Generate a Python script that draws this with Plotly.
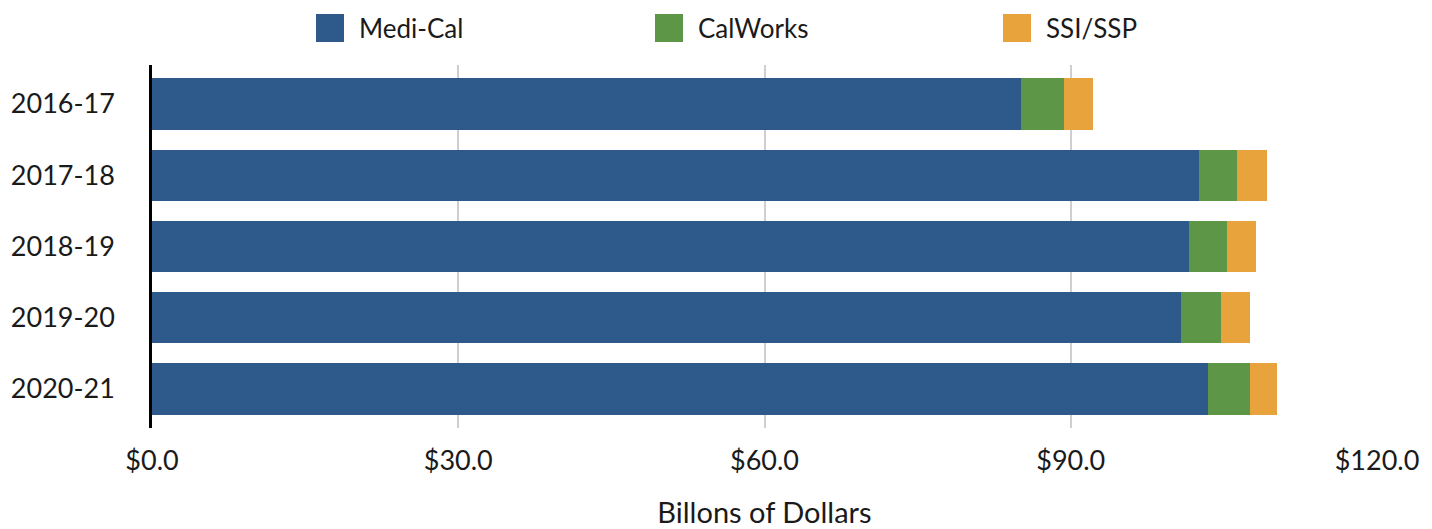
import plotly.graph_objects as go

years = ["2016-17", "2017-18", "2018-19", "2019-20", "2020-21"]
medi_cal = [85.1, 102.6, 101.6, 100.8, 103.4]
calworks = [4.2, 3.7, 3.7, 3.9, 4.2]
ssi_ssp = [2.9, 2.9, 2.8, 2.9, 2.6]

series_names = ["Medi-Cal", "CalWorks", "SSI/SSP"]
series_colors = ["#2E5A8B", "#5E9648", "#E8A33D"]
x_ticks = [0, 30, 60, 90, 120]
x_tick_labels = ["$0.0", "$30.0", "$60.0", "$90.0", "$120.0"]

FONT = "Lato"
# page has an 8px body margin; figure is sized so it ends at the window edge
OFF = 8
W, H = 1432 - OFF, 529 - OFF
PLOT_L, PLOT_R, PLOT_T, PLOT_B = 152, 1377, 65, 428  # page pixels
ML, MR, MT, MB = PLOT_L - OFF, 1432 - PLOT_R, PLOT_T - OFF, 529 - PLOT_B
PW, PH = PLOT_R - PLOT_L, PLOT_B - PLOT_T


def px_x(px):
    return (px - PLOT_L) / PW


def px_y(py):
    return (PLOT_B - py) / PH


fig = go.Figure()
for name, vals, col in zip(series_names, [medi_cal, calworks, ssi_ssp], series_colors):
    fig.add_trace(go.Bar(
        y=years, x=vals, name=name, orientation="h",
        marker=dict(color=col, line=dict(width=0)),
        showlegend=False,
    ))

# custom legend (large square swatches)
legend_left_px = [316, 655, 1003]
for name, col, lx in zip(series_names, series_colors, legend_left_px):
    fig.add_shape(type="rect", xref="paper", yref="paper",
                  x0=px_x(lx), x1=px_x(lx + 28), y0=px_y(42), y1=px_y(14),
                  fillcolor=col, line=dict(width=0))
    fig.add_annotation(xref="paper", yref="paper", x=px_x(lx + 41), y=px_y(28),
                       text=name, showarrow=False, xanchor="left", yanchor="middle",
                       font=dict(family=FONT, size=26, color="#1a1a1a"))

fig.update_layout(
    width=W, height=H,
    margin=dict(l=ML, r=MR, t=MT, b=MB, autoexpand=False),
    barmode="stack", bargap=0.28,
    plot_bgcolor="white", paper_bgcolor="white",
    font=dict(family=FONT, size=27, color="#1a1a1a"),
    showlegend=False,
    xaxis=dict(
        range=[0, 120], tickvals=x_ticks, ticktext=x_tick_labels,
        showgrid=True, gridcolor="#cfcfcf", gridwidth=1.5,
        zeroline=False, showline=False, ticks="",
        ticklabelstandoff=14,
        title=dict(text="Billons of Dollars", standoff=30,
                   font=dict(family=FONT, size=29, color="#1a1a1a")),
        automargin=False, fixedrange=True,
    ),
    yaxis=dict(
        range=[4.548, -0.548], showgrid=False, zeroline=False,
        showline=True, linecolor="black", linewidth=2.5,
        ticks="", ticklabelstandoff=29, automargin=False,
    ),
)

fig.write_html("out.html")
